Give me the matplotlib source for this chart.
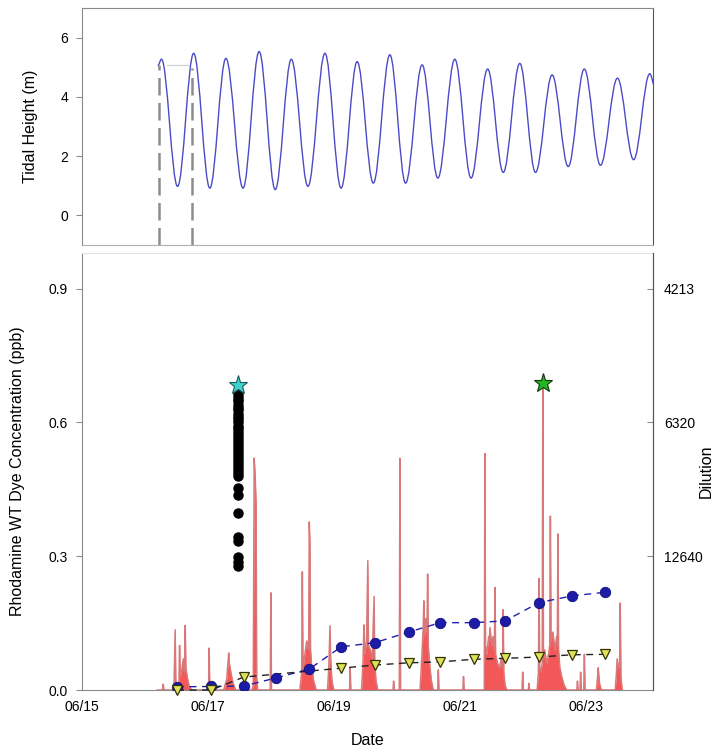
import numpy as np
import matplotlib.pyplot as plt
from matplotlib.path import Path
from matplotlib.patches import PathPatch

plt.rcParams['font.family'] = ['Liberation Sans', 'DejaVu Sans']

# time axis: days since 06/15 00:00
date_ticks = [0, 2, 4, 6, 8]
date_labels = ['06/15', '06/17', '06/19', '06/21', '06/23']

# tidal height, high/low water (m)
tide_t = [1.255, 1.314, 1.568, 1.822, 2.077, 2.331, 2.601, 2.855, 3.109, 3.363,
          3.625, 3.894, 4.148, 4.402, 4.657, 4.918, 5.166, 5.427, 5.675, 5.943,
          6.199, 6.461, 6.707, 6.968, 7.216, 7.478, 7.732, 7.986, 8.241, 8.509,
          8.764, 9.019, 9.10]
tide_h = [5.05, 5.27, 0.98, 5.47, 0.92, 5.30, 0.92, 5.53, 0.87, 5.27,
          0.98, 5.47, 0.92, 5.19, 1.09, 5.42, 1.09, 5.08, 1.26, 5.27,
          1.26, 4.94, 1.45, 5.13, 1.45, 4.74, 1.65, 4.94, 1.69, 4.63,
          1.88, 4.78, 4.35]

# dye release markers on tidal plot
release_t = [1.28, 1.80]
release_h = [5.08, 4.97]

# continuous Rhodamine WT record (ppb)
dye_t = [1.20, 1.28, 1.29, 1.30,
         1.46, 1.48, 1.49, 1.50, 1.54, 1.55, 1.56, 1.59, 1.61, 1.63, 1.64, 1.65, 1.67, 1.70, 1.74,
         2.01, 2.02, 2.03,
         2.25, 2.30, 2.33, 2.34, 2.37, 2.40, 2.44,
         2.70, 2.72, 2.735, 2.75, 2.765, 2.775, 2.79,
         2.99, 3.00, 3.01,
         3.46, 3.49, 3.50, 3.51, 3.54, 3.57, 3.60, 3.61, 3.62, 3.63, 3.65, 3.68, 3.72,
         3.90, 3.92, 3.94, 3.95, 3.97, 4.00,
         4.25, 4.26, 4.27,
         4.44, 4.46, 4.48, 4.49, 4.52, 4.54, 4.55, 4.58, 4.61, 4.64, 4.65, 4.67, 4.70,
         4.94, 4.95, 4.96, 5.04, 5.05, 5.06,
         5.37, 5.40, 5.42, 5.43, 5.44, 5.46, 5.48, 5.49, 5.50, 5.52, 5.55, 5.58,
         5.65, 5.66, 5.67,
         6.05, 6.06, 6.07,
         6.39, 6.40, 6.41, 6.43, 6.46, 6.47, 6.48, 6.51, 6.53, 6.55, 6.56, 6.57, 6.60, 6.63,
         6.66, 6.68, 6.69, 6.70, 6.72, 6.75,
         6.99, 7.00, 7.01, 7.09, 7.10, 7.11,
         7.23, 7.25, 7.26, 7.27, 7.29, 7.31, 7.32, 7.33, 7.35, 7.38, 7.41, 7.43, 7.44, 7.45,
         7.48, 7.51, 7.54, 7.55, 7.56, 7.57, 7.59, 7.62, 7.66, 7.70,
         7.86, 7.87, 7.88, 7.91, 7.92, 7.93, 7.97, 7.98, 7.99,
         8.17, 8.19, 8.20, 8.22, 8.25,
         8.47, 8.49, 8.50, 8.52, 8.54, 8.55, 8.56, 8.58]
dye_c = [0.0, 0.0, 0.013, 0.0,
         0.0, 0.135, 0.02, 0.01, 0.015, 0.10, 0.03, 0.05, 0.07, 0.04, 0.145, 0.05, 0.03, 0.01, 0.0,
         0.0, 0.094, 0.0,
         0.0, 0.025, 0.083, 0.06, 0.035, 0.015, 0.0,
         0.0, 0.01, 0.52, 0.48, 0.42, 0.03, 0.0,
         0.0, 0.218, 0.0,
         0.0, 0.04, 0.265, 0.05, 0.08, 0.11, 0.09, 0.377, 0.33, 0.09, 0.05, 0.02, 0.0,
         0.0, 0.05, 0.144, 0.07, 0.02, 0.0,
         0.0, 0.05, 0.0,
         0.0, 0.05, 0.146, 0.08, 0.11, 0.29, 0.10, 0.09, 0.07, 0.21, 0.06, 0.02, 0.0,
         0.0, 0.02, 0.0, 0.0, 0.52, 0.0,
         0.0, 0.08, 0.14, 0.20, 0.12, 0.16, 0.13, 0.26, 0.10, 0.06, 0.02, 0.0,
         0.0, 0.045, 0.0,
         0.0, 0.03, 0.0,
         0.0, 0.53, 0.10, 0.08, 0.12, 0.11, 0.14, 0.10, 0.12, 0.09, 0.23, 0.08, 0.06, 0.05,
         0.07, 0.05, 0.18, 0.04, 0.01, 0.0,
         0.0, 0.04, 0.0, 0.0, 0.015, 0.0,
         0.0, 0.04, 0.25, 0.05, 0.04, 0.06, 0.685, 0.07, 0.09, 0.06, 0.08, 0.10, 0.39, 0.11,
         0.13, 0.09, 0.12, 0.10, 0.35, 0.09, 0.05, 0.03, 0.01, 0.0,
         0.0, 0.02, 0.0, 0.0, 0.04, 0.0, 0.0, 0.08, 0.0,
         0.0, 0.03, 0.05, 0.015, 0.0,
         0.0, 0.04, 0.07, 0.05, 0.06, 0.195, 0.03, 0.0]

# tidal-cycle averaged samples
blue_t = [1.51, 2.05, 2.57, 3.08, 3.61, 4.12, 4.65, 5.19, 5.69, 6.23, 6.72, 7.26, 7.78, 8.30]
blue_c = [0.007, 0.008, 0.009, 0.027, 0.047, 0.097, 0.106, 0.13, 0.151, 0.151, 0.155, 0.196, 0.211, 0.219]
tri_t = [1.51, 2.05, 2.57, 4.12, 4.65, 5.19, 5.69, 6.23, 6.72, 7.26, 7.78, 8.30]
tri_c = [0.0, 0.0, 0.029, 0.049, 0.056, 0.061, 0.063, 0.069, 0.071, 0.074, 0.079, 0.080]

# vertical profile of grab samples
grab_t = 2.48
grab_c = [0.279, 0.288, 0.299, 0.334, 0.344, 0.398, 0.438, 0.452,
          0.480, 0.487, 0.494, 0.500, 0.507, 0.513, 0.520, 0.527, 0.533, 0.540,
          0.547, 0.553, 0.560, 0.567, 0.573, 0.580, 0.587, 0.593, 0.600, 0.607,
          0.613, 0.620, 0.627, 0.633, 0.640, 0.647, 0.653, 0.660, 0.665]
star1 = (2.48, 0.683)
star2 = (7.32, 0.688)

# dilution axis
dil_pos = [0.3, 0.6, 0.9]
dil_labels = ['12640', '6320', '4213']

xlim = (0.06, 9.07)
fs_tick = 10
fs_lab = 11.5
gray = '#8a8a8a'

fig = plt.figure(figsize=(7.2, 7.55), dpi=100)
ax1 = fig.add_axes([82/720, 1-245/755, 571/720, 237/755])
ax2 = fig.add_axes([82/720, 1-690/755, 571/720, 437/755])

# ---- tidal panel ----
verts = [(tide_t[0], tide_h[0])]
codes = [Path.MOVETO]
for i in range(len(tide_t) - 1):
    t0, h0, t1, h1 = tide_t[i], tide_h[i], tide_t[i+1], tide_h[i+1]
    dt = t1 - t0
    verts += [(t0 + 0.364*dt, h0), (t1 - 0.364*dt, h1), (t1, h1)]
    codes += [Path.CURVE4]*3
ax1.add_patch(PathPatch(Path(verts, codes), fill=False, ec='#4b4bc8', lw=1.0))

for t, h in zip(release_t, release_h):
    ax1.plot([t, t], [-1, h], color='#8c8c8c', lw=1.8, dashes=(7, 3))
ax1.plot([release_t[0] + 0.12, release_t[1] - 0.05], [5.09, 5.09], color='#d0d0d0', lw=0.9)

ax1.set_xlim(*xlim)
ax1.set_ylim(-1, 7)
ax1.set_yticks([0, 2, 4, 6])
ax1.set_xticks([])
ax1.tick_params(axis='y', length=4, width=0.8, color=gray, labelsize=fs_tick, pad=6)
ax1.set_ylabel('Tidal Height (m)', fontsize=fs_lab)
ax1.yaxis.set_label_coords(-0.077, 0.5)
for s in ['left', 'top', 'bottom']:
    ax1.spines[s].set_color(gray)
ax1.spines['bottom'].set_color('#b0b0b0')
ax1.spines['right'].set_color('#555555')

# ---- dye panel ----
ax2.fill_between(dye_t, dye_c, color='#f01010', alpha=0.7, lw=0)
ax2.plot(dye_t, dye_c, color='#d97878', lw=1.1)

ax2.plot(blue_t, blue_c, color='#2020b0', lw=1.0, dashes=(5, 4), zorder=3)
ax2.plot(blue_t, blue_c, 'o', ms=7.5, mfc='#1c1ca8', mec='#10107a', mew=0.6, zorder=4)
ax2.plot(tri_t, tri_c, color='#222222', lw=1.0, dashes=(5, 4), zorder=3, clip_on=False)
ax2.plot(tri_t, tri_c, 'v', ms=7.5, mfc='#dde25a', mec='#333300', mew=0.9, zorder=4, clip_on=False)

ax2.plot([grab_t]*len(grab_c), grab_c, 'o', ms=6.5, color='black', zorder=5)
ax2.plot(*star1, marker='*', ms=14, mfc='#3fd2cf', mec='#1a5a5a', mew=0.8, zorder=6)
ax2.plot(*star2, marker='*', ms=14, mfc='#26b526', mec='#0a3a0a', mew=0.8, zorder=6)

ax2.set_xlim(*xlim)
ax2.set_ylim(0, 0.98)
ax2.set_yticks([0.0, 0.3, 0.6, 0.9])
ax2.set_yticklabels(['0.0', '0.3', '0.6', '0.9'])
ax2.set_xticks(date_ticks)
ax2.set_xticklabels(date_labels)
ax2.tick_params(axis='y', length=4, width=0.8, color=gray, labelsize=fs_tick, pad=6)
ax2.tick_params(axis='x', length=0, labelsize=fs_tick, pad=7)
ax2.set_ylabel('Rhodamine WT Dye Concentration (ppb)', fontsize=fs_lab)
ax2.yaxis.set_label_coords(-0.1, 0.5)
ax2.set_xlabel('Date', fontsize=fs_lab, labelpad=14)
ax2.spines['left'].set_color(gray)
ax2.spines['bottom'].set_color(gray)
ax2.spines['top'].set_color('#e4e4e4')
ax2.spines['right'].set_color('#555555')

ax3 = ax2.twinx()
ax3.set_ylim(ax2.get_ylim())
ax3.set_yticks(dil_pos)
ax3.set_yticklabels(dil_labels)
ax3.tick_params(axis='y', direction='in', length=4, width=0.8, color=gray, labelsize=fs_tick, pad=8)
ax3.set_ylabel('Dilution', fontsize=fs_lab, rotation=90)
ax3.yaxis.set_label_coords(1.08, 0.5)
for s in ['left', 'top', 'bottom']:
    ax3.spines[s].set_visible(False)
ax3.spines['right'].set_color('#555555')

fig.savefig('out.png', dpi=100)
